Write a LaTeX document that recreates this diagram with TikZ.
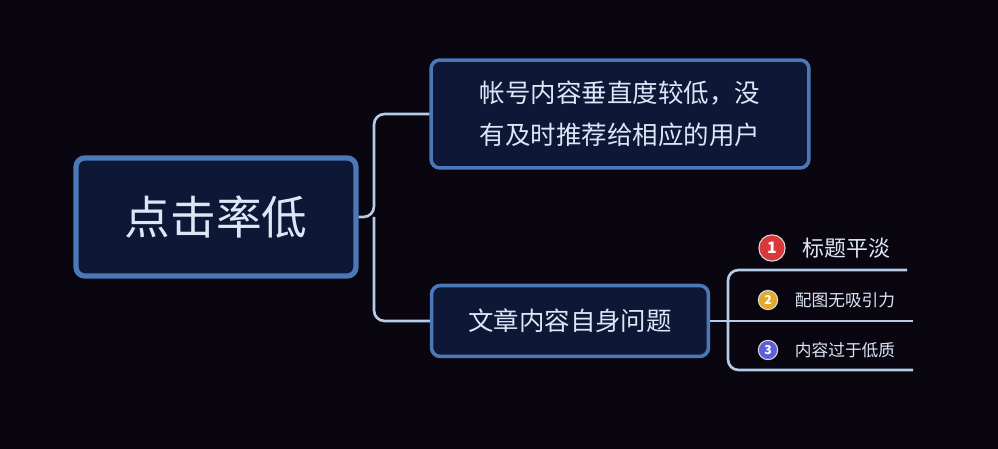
\documentclass[tikz,border=0pt]{standalone}
\usepackage{fontspec}
\setmainfont{Noto Sans CJK SC}
\usetikzlibrary{positioning}
\definecolor{bgc}{HTML}{0A0610}
\definecolor{boxfill}{HTML}{0E1736}
\definecolor{boxline}{HTML}{4A78B8}
\definecolor{txt}{HTML}{DCE6F6}
\definecolor{link}{HTML}{B4CBEA}
\definecolor{nred}{HTML}{D9393A}
\definecolor{nyel}{HTML}{E3A92A}
\definecolor{nblu}{HTML}{5B5FD8}
\tikzset{
  topic/.style={draw=boxline,fill=boxfill,rounded corners=5pt,text=txt,align=center},
  conn/.style={link,line width=1.5pt,rounded corners=6pt},
  numdot/.style={circle,draw=white!85!black,line width=0.6pt,inner sep=0pt,minimum size=#1,text=white,font=\bfseries\fontsize{9}{9}\selectfont}
}
\begin{document}
\begin{tikzpicture}[x=0.02cm,y=-0.02cm]
\fill[bgc] (0,0) rectangle (998,449);
%topics
\node[topic,line width=3pt,minimum width=5.6cm,minimum height=2.36cm,font=\fontsize{26}{28}\selectfont] (root) at (216,217) {点击率低};
\node[topic,line width=2pt,minimum width=7.56cm,minimum height=2.16cm,font=\fontsize{14.5}{24}\selectfont] (sub1) at (620,114) {帐号内容垂直度较低，没\\有及时推荐给相应的用户};
\node[topic,line width=2pt,minimum width=5.54cm,minimum height=1.42cm,font=\fontsize{14.5}{18}\selectfont] (sub2) at (570,321) {文章内容自身问题};
%links
\coordinate (jr) at (374,217);
\draw[conn] (root.east) -- (jr) |- (sub1.west);
\draw[conn] (jr) |- (sub2.west);
\coordinate (jb) at (728,321);
\coordinate (e1) at (907,270);
\coordinate (e2) at (913,321);
\coordinate (e3) at (913,370);
\draw[conn] (sub2.east) -- (e2);
\draw[conn] (e1) -| (jb) |- (e3);
%items
\node[numdot=15pt,fill=nred] (d1) at (772,248) {1};
\node[right=6pt of d1,text=txt,font=\fontsize{12.5}{14}\selectfont] (t1) {标题平淡};
\node[numdot=11pt,fill=nyel,font=\bfseries\fontsize{7}{7}\selectfont] (d2) at (768,300) {2};
\node[right=6pt of d2,text=txt,font=\fontsize{9.5}{11}\selectfont] (t2) {配图无吸引力};
\node[numdot=11pt,fill=nblu,font=\bfseries\fontsize{7}{7}\selectfont] (d3) at (768,350) {3};
\node[right=6pt of d3,text=txt,font=\fontsize{9.5}{11}\selectfont] (t3) {内容过于低质};
\end{tikzpicture}
\end{document}
